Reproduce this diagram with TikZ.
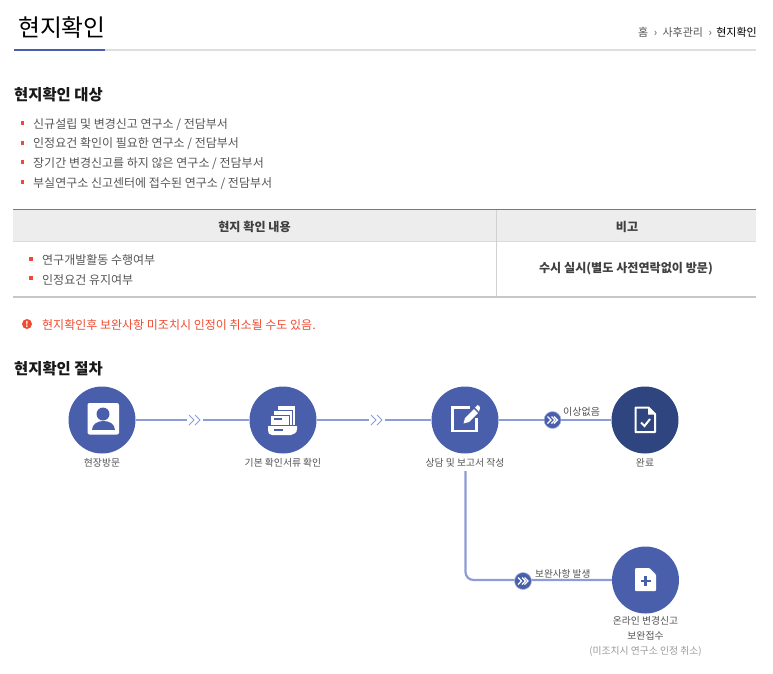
\documentclass[tikz,border=0pt]{standalone}
\usepackage{fontspec}
\setmainfont{Noto Sans CJK KR}
\usepackage{xcolor}
\usetikzlibrary{positioning}
\definecolor{stepblue}{HTML}{4A5FAC}
\definecolor{stepdark}{HTML}{2F4580}
\definecolor{flowblue}{HTML}{8D9CD6}
\definecolor{alertred}{HTML}{F04B32}
\definecolor{bodygray}{HTML}{555555}
\tikzset{
  stepnode/.style={circle, fill=stepblue, minimum size=67pt, inner sep=0pt},
  flowline/.style={line width=2.2pt, flowblue},
  bodytext/.style={anchor=west, inner sep=0pt, font=\fontsize{12}{14}\selectfont, text=bodygray},
  headtext/.style={anchor=west, inner sep=0pt, font=\fontsize{15.4}{18}\bfseries\selectfont, text=black!90},
  celltext/.style={inner sep=0pt, font=\fontsize{12.1}{14}\bfseries\selectfont, text=black!75},
  steplabel/.style={inner sep=0pt, font=\fontsize{9.8}{15}\selectfont, text=black!68, align=center},
  bulletmark/.style={rectangle, fill=alertred, minimum size=3.5pt, inner sep=0pt},
  chevgap/.style={fill=white, minimum width=16pt, minimum height=8pt, inner sep=0pt},
  badge/.style={circle, fill=stepblue, draw=flowblue!70, line width=0.6pt, minimum size=17pt, inner sep=0pt}
}
\begin{document}
\begin{tikzpicture}[x=1pt,y=-1pt]
\useasboundingbox (0,0) rectangle (773,673);
% page title
\node[anchor=west, inner sep=0pt, font=\fontsize{23.8}{26}\selectfont] (title) at (18,27) {현지확인};
\draw[line width=2pt, black!13] (14,50) -- (756,50);
\draw[line width=2pt, stepblue] (14,50) -- (105,50);
\node[anchor=east, inner sep=0pt, font=\fontsize{11}{13}\selectfont, text=black] (crumbC) at (757,32) {현지확인};
\node[left=4pt of crumbC, inner sep=0pt, font=\fontsize{11}{13}\selectfont, text=bodygray] (crumbB) {홈 \;›\; 사후관리 \;›};
% target list
\node[headtext] (headA) at (14,94.5) {현지확인 대상};
\node[bodytext] (itemA) at (33,124.5) {신규설립 및 변경신고 연구소 / 전담부서};
\node[bodytext] (itemB) at (33,144) {인정요건 확인이 필요한 연구소 / 전담부서};
\node[bodytext] (itemC) at (33,163.5) {장기간 변경신고를 하지 않은 연구소 / 전담부서};
\node[bodytext] (itemD) at (33,183.5) {부실연구소 신고센터에 접수된 연구소 / 전담부서};
\foreach \y in {123,143,162,182} {
  \node[bulletmark] at (22.5,\y) {};
}
% table
\fill[black!7] (13,209) rectangle (756,241);
\draw[black!14] (13,241.5) -- (756,241.5);
\draw[black!18] (496,210) -- (496,296);
\draw[line width=0.9pt, stepblue!85] (13,209) -- (756,209);
\draw[line width=1.5pt, black!22] (13,297) -- (756,297);
\node[celltext] (colA) at (254.5,226.5) {현지 확인 내용};
\node[celltext] (colB) at (627,226.5) {비고};
\node[bodytext] (cellA) at (42,260) {연구개발활동 수행여부};
\node[bodytext] (cellB) at (42,280) {인정요건 유지여부};
\node[bulletmark] at (31,259) {};
\node[bulletmark] at (31,278) {};
\node[celltext] (cellC) at (626,268.5) {수시 실시(별도 사전연락없이 방문)};
% notice
\node[circle, fill=alertred, minimum size=10pt, inner sep=0pt, text=white, font=\fontsize{8}{8}\bfseries\selectfont] (alert) at (27,324) {!};
\node[bodytext, text=alertred] (alertText) at (42,325) {현지확인후 보완사항 미조치시 인정이 취소될 수도 있음.};
% procedure
\node[headtext] (headB) at (14,368.5) {현지확인 절차};
\node[stepnode] (visit) at (102,420) {};
\node[stepnode] (docs) at (283,420) {};
\node[stepnode] (report) at (465,420) {};
\node[stepnode, fill=stepdark] (done) at (645,420) {};
\node[stepnode] (amend) at (645.5,580) {};
\node[steplabel, below=4pt of visit] (visitText) {현장방문};
\node[steplabel, below=4pt of docs] (docsText) {기본 확인서류 확인};
\node[steplabel, below=4pt of report] (reportText) {상담 및 보고서 작성};
\node[steplabel, below=4pt of done] (doneText) {완료};
\node[steplabel, below=2.5pt of amend] (amendText) {온라인 변경신고\\보완접수};
\node[steplabel, below=6pt of amendText, text=black!40] (amendNote) {(미조치시 연구소 인정 취소)};
% connectors
\coordinate (branch) at (465.5,471);
\draw[flowline] (visit) -- (docs);
\draw[flowline] (docs) -- (report);
\draw[flowline] (report) -- (done);
\draw[flowline, rounded corners=8pt] (branch) |- (amend.west);
% chevrons on the lines
\node[chevgap] (chevA) at (195,420) {};
\node[chevgap] (chevB) at (377,420) {};
\foreach \n in {chevA,chevB} {
  \begin{scope}[shift={(\n)}]
    \draw[flowblue, line width=1pt] (-6,-5) -- (-1,0) -- (-6,5);
    \draw[flowblue, line width=1pt] (0,-5) -- (5,0) -- (0,5);
  \end{scope}
}
\node[badge] (badgeA) at (552.5,420) {};
\node[badge] (badgeB) at (523,581) {};
\foreach \n in {badgeA,badgeB} {
  \begin{scope}[shift={(\n)}]
    \draw[white, line width=1.3pt] (-5,-3.5) -- (-1.5,0) -- (-5,3.5);
    \draw[white, line width=1.3pt] (-1,-3.5) -- (2.5,0) -- (-1,3.5);
    \draw[white, line width=1.3pt] (1.5,-3.5) -- (5,0) -- (1.5,3.5);
  \end{scope}
}
\node[steplabel, anchor=west, font=\fontsize{10}{11}\selectfont] (okText) at (563,412) {이상없음};
\node[steplabel, anchor=west, font=\fontsize{9.6}{11}\selectfont] (fixText) at (535,574) {보완사항 발생};
% icon: person
\begin{scope}[shift={(visit)}]
  \fill[white, rounded corners=2pt] (-14.5,-17) rectangle (17,14.5);
  \fill[stepblue] (1,-6) circle (6.5);
  \fill[stepblue] (-10.5,10) .. controls (-10.5,-2) and (12.5,-2) .. (12.5,10) -- cycle;
\end{scope}
% icon: document tray
\begin{scope}[shift={(docs)}]
  \draw[stepblue, line width=1pt, fill=white] (-6,-15) rectangle (12,8);
  \draw[stepblue, line width=1pt, fill=white] (-10,-10) rectangle (9,8);
  \draw[stepblue, line width=1pt, fill=white] (-13,-5) rectangle (6,8);
  \fill[stepblue] (-9,-2) rectangle (-1,0);
  \fill[white] (-15,6) -- (14,6) -- (14,9) .. controls (14,13) and (11,14) .. (8,15) -- (-11,15) .. controls (-14,15) and (-15,13) .. (-15,10) -- cycle;
  \draw[stepblue, line width=1pt] (-15,5.5) -- (14,5.5);
  \fill[stepblue] (-9,9) rectangle (0,11);
\end{scope}
% icon: note and pencil
\begin{scope}[shift={(report)}]
  \draw[white, line width=2.2pt] (5,-12.5) -- (-12.5,-12.5) -- (-12.5,11) -- (11.5,11) -- (11.5,-2);
  \fill[white] (-1.5,3.5) -- (0,-2) -- (9,-11) -- (13,-7) -- (4,2) -- cycle;
  \fill[white] (10,-12.5) -- (12.5,-15) .. controls (13.5,-15.5) and (15.5,-13) .. (15,-12) -- (14,-8.5) -- cycle;
\end{scope}
% icon: checked document
\begin{scope}[shift={(done)}]
  \draw[white, line width=2pt, line join=round] (-9.5,-12.5) -- (3.5,-12.5) -- (10,-6) -- (10,12) -- (-9.5,12) -- cycle;
  \fill[white] (3,-12.5) -- (3,-5.5) -- (10,-5.5) -- cycle;
  \draw[white, line width=2pt] (-4,2.5) -- (-0.5,6) -- (5,-1);
\end{scope}
% icon: document with plus
\begin{scope}[shift={(amend)}]
  \fill[white, rounded corners=1pt] (-10.5,-12) -- (4,-12) -- (10.5,-5.5) -- (10.5,11) -- (-10.5,11) -- cycle;
  \fill[stepblue] (-1.3,-4) rectangle (1.3,6);
  \fill[stepblue] (-5,-0.3) rectangle (5,2.3);
\end{scope}
\end{tikzpicture}
\end{document}
